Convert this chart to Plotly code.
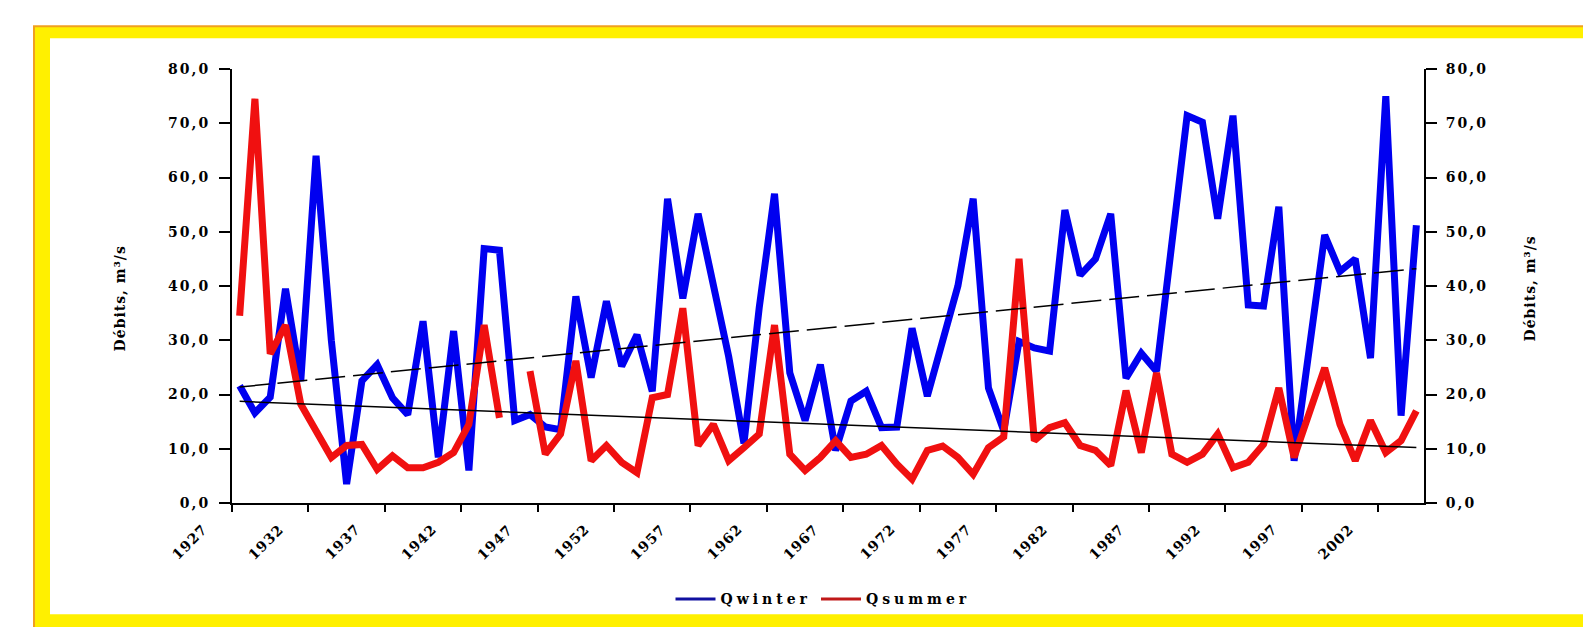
import numpy as np
import plotly.graph_objects as go

# ---- data -------------------------------------------------------------
years = list(range(1927, 2005))

q_winter = [
    21.6, 16.6, 19.5, 39.5, 22.5, 64.0, 30.0, 3.5, 22.5, 25.5,
    19.4, 16.3, 33.5, 8.4, 31.7, 6.0, 46.9, 46.6, 15.2, 16.3,
    14.0, 13.5, 38.1, 23.1, 37.2, 25.2, 31.0, 20.6, 56.1, 37.7,
    53.3, 40.0, 27.0, 11.0, 36.0, 57.0, 24.0, 15.2, 25.5, 9.7,
    18.8, 20.6, 13.9, 14.0, 32.2, 19.7, 29.5, 40.0, 56.1, 21.2,
    13.3, 29.8, 28.6, 28.0, 54.0, 42.0, 45.0, 53.3, 23.0, 27.6,
    24.3, 47.0, 71.4, 70.2, 52.4, 71.4, 36.5, 36.3, 54.6, 7.8,
    29.0, 49.4, 42.7, 45.0, 26.7, 75.0, 16.1, 51.2,
]

q_summer = [
    34.5, 74.5, 27.5, 32.8, 18.2, 13.5, 8.4, 10.6, 10.8, 6.2,
    8.7, 6.5, 6.5, 7.5, 9.3, 14.5, 32.8, 15.7, None, 24.3,
    9.0, 12.7, 26.2, 7.8, 10.6, 7.5, 5.6, 19.4, 20.0, 35.9,
    10.6, 14.5, 7.8, 10.2, 12.7, 32.8, 9.0, 6.0, 8.4, 11.5,
    8.4, 9.0, 10.6, 7.2, 4.4, 9.7, 10.5, 8.4, 5.3, 10.2,
    12.2, 45.0, 11.5, 13.9, 14.8, 10.6, 9.7, 6.9, 20.7, 9.3,
    24.0, 9.0, 7.5, 9.0, 12.7, 6.5, 7.5, 10.8, 21.2, 8.4,
    17.0, 24.9, 14.5, 7.8, 15.2, 9.3, 11.5, 17.0,
]

label_years = list(range(1927, 2005, 5))
y_ticks = [0, 10, 20, 30, 40, 50, 60, 70, 80]
y_ticktext = ["0,0", "10,0", "20,0", "30,0", "40,0", "50,0", "60,0", "70,0", "80,0"]

series_names = ["Qwinter", "Qsummer"]
axis_title = "Débits, m³/s"

# ---- page geometry (pixels) ------------------------------------------
W, H = 1583, 627
L, R, T, B = 232, 1424, 69, 506
PX_PER_YEAR = (R - L) / len(years)


def fx(p):
    return (p - L) / (R - L)


def fy(p):
    return (B - p) / (B - T)


def year_px(yr):
    # left edge of the category slot for a given year
    return L + (yr - years[0]) * PX_PER_YEAR


BLUE = "#0000f0"
RED = "#f01010"
FONT = "DejaVu Serif"


def spaced(s, ls):
    return f'<span style="letter-spacing:{ls}px">{s}</span>'


# ---- linear trends ---------------------------------------------------
def trend(xs, ys):
    pts = [(x, y) for x, y in zip(xs, ys) if y is not None]
    a = np.array([p[0] for p in pts], dtype=float)
    b = np.array([p[1] for p in pts], dtype=float)
    k, c = np.polyfit(a, b, 1)
    xa = np.array([xs[0], xs[-1]], dtype=float)
    return xa, k * xa + c


tw_x, tw_y = trend(years, q_winter)
ts_x, ts_y = trend(years, q_summer)

fig = go.Figure()

fig.add_trace(go.Scatter(x=years, y=q_winter, mode="lines",
                         line=dict(color=BLUE, width=7), showlegend=False))
fig.add_trace(go.Scatter(x=years, y=q_summer, mode="lines",
                         line=dict(color=RED, width=7), showlegend=False,
                         connectgaps=False))
fig.add_trace(go.Scatter(x=tw_x, y=tw_y, mode="lines",
                         line=dict(color="black", width=1.5, dash="30px,8px"),
                         showlegend=False))
fig.add_trace(go.Scatter(x=ts_x, y=ts_y, mode="lines",
                         line=dict(color="black", width=1.5),
                         showlegend=False))

# legend entries
fig.add_trace(go.Scatter(x=[None], y=[None], mode="lines",
                         line=dict(color="#1010a0", width=3),
                         name=spaced(series_names[0], 4)))
fig.add_trace(go.Scatter(x=[None], y=[None], mode="lines",
                         line=dict(color="#c01818", width=3),
                         name=spaced(series_names[1], 4)))

# invisible trace to bring up the right-hand axis
fig.add_trace(go.Scatter(x=[years[0]], y=[0], yaxis="y2", mode="markers",
                         marker=dict(opacity=0), showlegend=False,
                         hoverinfo="skip"))

tick_font = dict(family=FONT, size=14, color="black", weight="bold")
xr = [years[0] - 0.5, years[-1] + 0.5]

fig.update_layout(
    width=W, height=H,
    margin=dict(l=L, r=W - R, t=T, b=H - B),
    paper_bgcolor="white",
    plot_bgcolor="rgba(0,0,0,0)",
    showlegend=True,
    legend=dict(orientation="h", x=fx(823), y=fy(603), xanchor="center",
                yanchor="middle",
                font=dict(family=FONT, size=14, color="black", weight="bold"),
                bgcolor="rgba(0,0,0,0)", itemwidth=40, tracegroupgap=0),
    xaxis=dict(range=xr, showgrid=False, zeroline=False,
               showline=True, linecolor="black", linewidth=2,
               ticks="outside", ticklen=7, tickwidth=2, tickcolor="black",
               tickvals=[y - 0.5 for y in label_years],
               showticklabels=False),
    yaxis=dict(range=[0, 80], tickvals=y_ticks,
               ticktext=[spaced(t, 2) for t in y_ticktext],
               showgrid=False, zeroline=False, showline=True,
               linecolor="black", linewidth=2, ticks="outside", ticklen=11,
               tickwidth=2, tickcolor="black", tickfont=tick_font,
               ticklabelstandoff=6),
    yaxis2=dict(range=[0, 80], tickvals=y_ticks,
                ticktext=[spaced(t, 2) for t in y_ticktext],
                overlaying="y", side="right", anchor="x",
                showgrid=False, zeroline=False, showline=True,
                linecolor="black", linewidth=2, ticks="outside", ticklen=11,
                tickwidth=2, tickcolor="black", tickfont=tick_font,
                ticklabelstandoff=6),
)

# rotated year labels, ending just left of each tick mark
for yr in label_years:
    fig.add_annotation(x=fx(year_px(yr) - 19), y=fy(521),
                       xref="paper", yref="paper", text=spaced(str(yr), 1),
                       textangle=-45, showarrow=False,
                       xanchor="right", yanchor="top",
                       font=dict(family=FONT, size=14, color="black",
                                 weight="bold"))

# frame around the chart: orange rim, yellow band, white inside
fig.add_shape(type="rect", xref="paper", yref="paper", layer="below",
              x0=fx(33), x1=fx(1700), y0=fy(700), y1=fy(25),
              fillcolor="#f0a020", line=dict(width=0))
fig.add_shape(type="rect", xref="paper", yref="paper", layer="below",
              x0=fx(35), x1=fx(1700), y0=fy(700), y1=fy(27),
              fillcolor="#fff000", line=dict(width=0))
fig.add_shape(type="rect", xref="paper", yref="paper", layer="below",
              x0=fx(50), x1=fx(1700), y0=fy(618), y1=fy(38),
              fillcolor="white", line=dict(width=0))

# axis titles on both sides
for xpos, ypos in [(110, 300), (1540, 290)]:
    fig.add_annotation(x=fx(xpos), y=fy(ypos), xref="paper", yref="paper",
                       text=spaced(axis_title, 1), textangle=-90,
                       showarrow=False,
                       font=dict(family=FONT, size=14, color="black",
                                 weight="bold"))

fig.write_html("out.html")
